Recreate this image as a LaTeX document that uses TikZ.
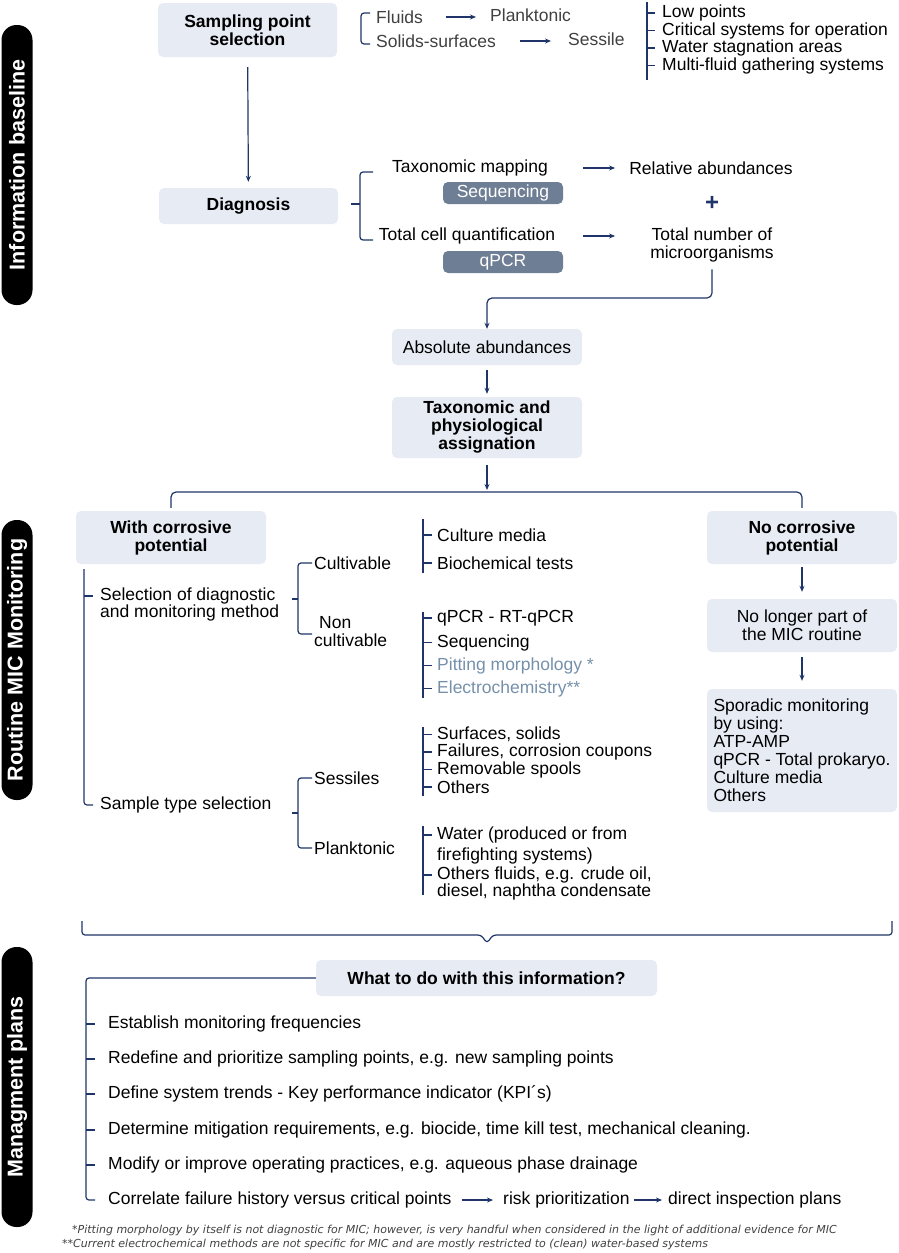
\documentclass[tikz,border=0pt]{standalone}
\usepackage{fontspec}
\setmainfont{Liberation Sans}
\newfontfamily\notefont{DejaVu Sans}
\usetikzlibrary{arrows.meta}
\definecolor{navy}{HTML}{1F3468}
\definecolor{boxblue}{HTML}{E6EBF4}
\definecolor{pillgray}{HTML}{6E7E94}
\definecolor{softblue}{HTML}{7690AB}
\definecolor{lightink}{HTML}{404040}
\tikzset{
  box/.style={fill=boxblue, rounded corners=5pt, align=center, inner sep=0pt,
    minimum width=190, font=\bfseries\fontsize{17.5}{18}\selectfont},
  pill/.style={fill=pillgray, text=white, rounded corners=5pt, minimum width=120,
    minimum height=22, inner sep=0pt},
  side/.style={fill=black, text=white, rounded corners=15pt, rotate=90,
    minimum width=280, minimum height=31, inner sep=0pt,
    font=\bfseries\fontsize{21.5}{22}\selectfont},
  item/.style={anchor=west, inner sep=0pt, align=left},
  note/.style={item, text=lightink, font=\notefont\itshape\fontsize{11}{12}\selectfont},
  link/.style={navy, line width=1.2pt, -{Stealth[length=6pt,width=5pt]}},
  tree/.style={navy, line width=1.2pt, rounded corners=3pt},
}
\begin{document}
\begin{tikzpicture}[x=1pt, y=-1pt, inner sep=0pt, font=\fontsize{17.5}{18}\selectfont]
\useasboundingbox (0,0) rectangle (899,1253);
\path
  (17,165) node[side] (info) {Information baseline}
  (17,660) node[side] (routine) {Routine MIC Monitoring}
  (17,1087) node[side] (manag) {Managment plans}
  (247.5,30) node[box, minimum width=179, minimum height=54] (samp) {Sampling point\\selection}
  (248.5,206) node[box, minimum width=179, minimum height=36] (diag) {Diagnosis}
  (487,347) node[box, minimum height=36, font=\fontsize{17.5}{18}\selectfont] (absab) {Absolute abundances}
  (487,427.5) node[box, minimum height=61] (assign) {Taxonomic and\\physiological\\assignation}
  (171,537.5) node[box, minimum height=53] (withc) {With corrosive\\potential}
  (802,537.5) node[box, minimum height=53] (noc) {No corrosive\\potential}
  (802,625.5) node[box, minimum height=53, font=\fontsize{17.5}{18}\selectfont] (nolong) {No longer part of\\the MIC routine}
  (802,750.5) node[box, minimum height=123, align=left, font=\fontsize{17.5}{18}\selectfont] (spor) {Sporadic monitoring\\by using:\\ATP-AMP\\qPCR - Total prokaryo.\\Culture media\\Others}
  (486.5,978) node[box, minimum width=341, minimum height=36] (what) {What to do with this information?};
\path
  (376,17) node[item, text=lightink] (fluids) {Fluids}
  (376,41) node[item, text=lightink] (solids) {Solids-surfaces}
  (490,15) node[item, text=lightink] (plankt) {Planktonic}
  (568,39) node[item, text=lightink] (sessile) {Sessile}
  (470,168) node (taxmap) {Taxonomic mapping}
  (503,193) node[pill] (seqpill) {Sequencing}
  (467,236) node (totcell) {Total cell quantification}
  (503,262) node[pill] (qpcrpill) {qPCR}
  (711,168) node (relab) {Relative abundances}
  (712,203) node[text=navy, font=\bfseries\fontsize{24}{24}\selectfont] (plus) {+}
  (712,245) node[align=center] (totnum) {Total number of\\microorganisms};
\foreach \t [count=\i] in {Low points, Critical systems for operation, Water stagnation areas, Multi-fluid gathering systems}
  \node[item] (spot\i) at (662,{13+17.5*(\i-1)}) {\t};
\path
  (100,596) node[item] (sel1) {Selection of diagnostic}
  (100,613) node[item] (sel2) {and monitoring method}
  (100,805) node[item] (sampsel) {Sample type selection}
  (314,563) node[item] (cult) {Cultivable}
  (314,632) node[item] (noncult) {\hspace{5pt}Non\\cultivable}
  (314,778) node[item] (sess) {Sessiles}
  (314,848) node[item] (plank) {Planktonic}
  (437,535) node[item] (cm1) {Culture media}
  (437,563) node[item] (cm2) {Biochemical tests}
  (437,835) node[item] (pw1) {Water (produced or from}
  (437,856) node[item] (pw2) {firefighting systems)}
  (437,875) node[item] (pf1) {Others fluids, e.g. crude oil,}
  (437,892) node[item] (pf2) {diesel, naphtha condensate};
\foreach \y/\t/\c [count=\i] in {618/qPCR - RT-qPCR/black, 642.5/Sequencing/black, 665.5/Pitting morphology */softblue, 688.5/Electrochemistry**/softblue}
  \node[item, text=\c] (nc\i) at (437,\y) {\t};
\foreach \y/\t [count=\i] in {734.5/{Surfaces, solids}, 752/{Failures, corrosion coupons}, 769.5/Removable spools, 787/Others}
  \node[item] (ss\i) at (437,\y) {\t};
\foreach \y/\t [count=\i] in {1024/Establish monitoring frequencies, 1059/{Redefine and prioritize sampling points, e.g. new sampling points}, 1094/{Define system trends - Key performance indicator (KPI´s)}, 1130/{Determine mitigation requirements, e.g. biocide, time kill test, mechanical cleaning.}, 1165/{Modify or improve operating practices, e.g. aqueous phase drainage}, 1200/Correlate failure history versus critical points}
  \node[item] (mp\i) at (108,\y) {\t};
\path
  (503,1200) node[item] (risk) {risk prioritization}
  (668,1200) node[item] (direct) {direct inspection plans}
  (72,1230) node[note] (note1) {*Pitting morphology by itself is not diagnostic for MIC; however, is very handful when considered in the light of additional evidence for MIC}
  (62,1244) node[note] (note2) {**Current electrochemical methods are not specific for MIC and are mostly restricted to (clean) water-based systems};
\coordinate (join) at (487,298);
\coordinate (split) at (487,492);
\begin{scope}[link]
  \draw[shorten <=10pt, shorten >=6pt] (samp) -- (diag);
  \draw[shorten <=23pt, shorten >=14pt] (fluids) -- (fluids -| plankt.west);
  \draw[shorten <=24pt, shorten >=17pt] (solids) -- (solids -| sessile.west);
  \draw[shorten <=35pt, shorten >=14pt] (taxmap) -- (relab);
  \draw[shorten <=28pt, shorten >=35pt] (totcell.east) -- (totcell.east -| totnum.west);
  \draw[rounded corners=5pt, shorten <=7pt] (totnum) |- (join) -- (absab);
  \draw[shorten <=5pt, shorten >=3pt] (absab) -- (assign);
  \draw[shorten <=7pt, shorten >=2pt] (assign) -- (split);
  \draw[shorten <=3pt, shorten >=7pt] (noc) -- (nolong);
  \draw[shorten <=5pt, shorten >=8pt] (nolong) -- (spor);
  \draw[shorten <=10pt, shorten >=10pt] (mp6) -- (risk);
  \draw[shorten <=4pt, shorten >=6pt] (risk) -- (direct);
\end{scope}
\begin{scope}[tree]
  \draw[rounded corners=5pt, shorten <=3pt, shorten >=3pt] (withc.north) |- (split) -| (noc.north);
  \draw (370,13) -| (361,28) |- (370,44);
  \draw (647,2) -- (647,80);
  \foreach \i in {1,...,4} \draw ([xshift=-15pt]spot\i.west) -- ++(8,0);
  \draw (373,172) -| (360,206) |- (373,240);
  \draw (351,204) -- (360,204);
  \draw (84,569) |- ([xshift=-7pt]sampsel.west);
  \draw ([xshift=-16pt]sel1.west) -- ++(9,0);
  \draw ([xshift=-2pt]cult.west) -| (298,600) |- (312,634);
  \draw (292,599) -- (298,599);
  \draw ([xshift=-2pt]sess.west) -| (298,813) |- ([xshift=-2pt]plank.west);
  \draw (292,813) -- (298,813);
  \draw (423,519) -- (423,573);
  \draw (423,612) -- (423,698);
  \draw (423,727) -- (423,796);
  \draw (423,826) -- (423,895);
  \foreach \n in {cm1,cm2,nc1,nc2,nc3,nc4,ss1,ss2,ss3,ss4,pw1,pf1}
    \draw ([xshift=-14pt]\n.west) -- ++(9,0);
  \draw (82,921) -- (82,935) -- (481,935) -- (487,943) -- (493,935) -- (892,935) -- (892,921);
  \draw (what.west) -| (86,1100) |- ([xshift=-13pt]mp6.west);
  \foreach \i in {1,...,5} \draw ([xshift=-22pt]mp\i.west) -- ++(9,0);
\end{scope}
\end{tikzpicture}
\end{document}
